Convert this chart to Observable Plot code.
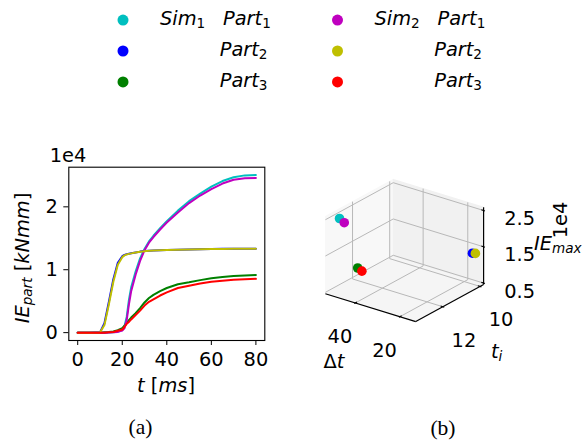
<!DOCTYPE html>
<html><head><meta charset="utf-8">
<script src="https://cdn.jsdelivr.net/npm/d3@7"></script>
<script src="https://cdn.jsdelivr.net/npm/@observablehq/plot@0.6"></script>
<style>
body{margin:0;background:#fff;}
#fig{position:relative;width:584px;height:441px;overflow:hidden;background:#fff;}
#fig > *{position:absolute;}
text{white-space:pre;}
</style></head><body><div id="fig"></div>
<script>
// ---------------- data ----------------
// (a) internal energy per part, in units of 1e4 kNmm
const tMs       = [0, 5, 10, 12, 14, 16, 18, 20, 21, 22, 23, 24, 26, 28, 30, 32, 34, 37, 40, 45, 50, 55, 60, 65, 70, 75, 80];
const sim1Part1 = [0, 0, 0, 0, 0.003, 0.008, 0.015, 0.04, 0.1, 0.25, 0.52, 0.72, 0.97, 1.18, 1.33, 1.45, 1.54, 1.66, 1.77, 1.94, 2.09, 2.21, 2.32, 2.41, 2.47, 2.50, 2.505];
const sim1Part2 = [0, 0, 0.005, 0.15, 0.49, 0.85, 1.11, 1.215, 1.235, 1.248, 1.255, 1.262, 1.275, 1.288, 1.297, 1.302, 1.306, 1.31, 1.313, 1.318, 1.322, 1.326, 1.33, 1.332, 1.333, 1.333, 1.333];
const sim1Part3 = [0, 0, 0, 0.005, 0.01, 0.02, 0.04, 0.07, 0.11, 0.16, 0.2, 0.24, 0.31, 0.39, 0.48, 0.55, 0.60, 0.66, 0.71, 0.77, 0.80, 0.835, 0.865, 0.885, 0.90, 0.91, 0.915];
const sim2Part1 = [0, 0, 0, 0, 0.002, 0.006, 0.012, 0.035, 0.07, 0.2, 0.45, 0.66, 0.92, 1.14, 1.31, 1.43, 1.52, 1.64, 1.75, 1.91, 2.06, 2.18, 2.28, 2.37, 2.43, 2.455, 2.46];
const sim2Part2 = [0, 0, 0.003, 0.12, 0.45, 0.81, 1.08, 1.20, 1.228, 1.243, 1.252, 1.26, 1.273, 1.286, 1.295, 1.30, 1.305, 1.309, 1.312, 1.317, 1.321, 1.325, 1.329, 1.331, 1.332, 1.332, 1.332];
const sim2Part3 = [0, 0, 0, 0, 0.005, 0.01, 0.03, 0.05, 0.09, 0.14, 0.17, 0.21, 0.28, 0.35, 0.43, 0.49, 0.53, 0.59, 0.64, 0.71, 0.745, 0.78, 0.81, 0.825, 0.84, 0.85, 0.855];

// (b) 3D scatter: duration, initial time, max energy (order: S1P1, S1P2, S1P3, S2P1, S2P2, S2P3)
const deltaT  = [49.9, 15.9, 49.0, 47.2, 15.0, 47.3];
const tInit   = [13.12, 10.05, 12.25, 13.19, 10.0, 12.23];

const seriesNames = ["S1P1", "S1P2", "S1P3", "S2P1", "S2P2", "S2P3"];
const seriesSim   = ["1", "1", "1", "2", "2", "2"];
const seriesPart  = ["1", "2", "3", "1", "2", "3"];
const seriesColor = ["#00bfbf", "#0000ff", "#008000", "#bf00bf", "#bfbf00", "#ff0000"];
const seriesVals  = [sim1Part1, sim1Part2, sim1Part3, sim2Part1, sim2Part2, sim2Part3];
const ieMax = seriesVals.map(v => d3.max(v));

// ticks
const tTicks = [0, 20, 40, 60, 80];
const ieTicks = [0, 1, 2];
const dtTicks = [20, 40];
const tiTicks = [10, 12];
const zTicks = [0.5, 1.5, 2.5];

// ---------------- helpers ----------------
const FS = 19.4;
const FAM = "DejaVu Sans";
function rich(parent, {x, y, parts, size = FS, anchor = "start", rotate = 0, family = FAM, drop = 3}) {
  const t = parent.append("text").attr("x", x).attr("y", y)
    .attr("font-family", family).attr("font-size", size)
    .attr("text-anchor", anchor).attr("fill", "#000");
  if (rotate) t.attr("transform", `rotate(${rotate} ${x} ${y})`);
  let shift = 0;
  for (const p of parts) {
    const target = p.sub ? drop : 0;
    const s = t.append("tspan").text(p.t)
      .attr("font-style", p.it ? "italic" : "normal")
      .attr("font-size", p.sub ? size * 0.7 : size);
    if (p.x != null) s.attr("x", p.x);
    if (target !== shift) s.attr("dy", target - shift);
    shift = target;
  }
  return t;
}
const fig = d3.select("#fig");
const baseStyle = {fontFamily: FAM, fontSize: FS + "px", background: "transparent", overflow: "visible", color: "black"};

// ---------------- legend ----------------
const leg = fig.append("svg").attr("width", 584).attr("height", 100).style("left", "0px").style("top", "0px");
const colX = [0, 214.5];
const rowY = [25.3, 56.2, 87.1];
seriesNames.forEach((n, i) => {
  const c = i < 3 ? 0 : 1, r = i % 3;
  const ox = colX[c];
  leg.append("circle").attr("cx", 123 + ox).attr("cy", rowY[r] - 5.2).attr("r", 5.5).attr("fill", seriesColor[i]);
  if (r === 0) {
    rich(leg, {x: 160 + ox, y: rowY[r], parts: [
      {t: "Sim", it: true}, {t: seriesSim[i], sub: true},
      {t: "Part", it: true, x: 223 + ox}, {t: seriesPart[i], sub: true}]});
  } else {
    rich(leg, {x: 219.7 + ox, y: rowY[r], parts: [{t: "Part", it: true}, {t: seriesPart[i], sub: true}]});
  }
});

// ---------------- (a) line chart ----------------
const left = Plot.plot({
  width: 290, height: 260,
  marginLeft: 68.3, marginRight: 25.7, marginTop: 26.7, marginBottom: 60,
  x: {domain: [-4, 84]},
  y: {domain: [-0.125, 2.63]},
  style: baseStyle,
  marks: [
    ...seriesVals.map((vals, i) => Plot.line(tMs.map((t, j) => ({t, v: vals[j]})),
      {x: "t", y: "v", stroke: seriesColor[i], strokeWidth: 2})),
    Plot.frame({stroke: "black", strokeWidth: 1.1}),
    Plot.axisX({ticks: tTicks, tickSize: 5, tickPadding: 7, fontSize: FS, label: null, tickFormat: d => String(d)}),
    Plot.axisY({ticks: ieTicks, tickSize: 5, tickPadding: 6, fontSize: FS, label: null, tickFormat: d => String(d)})
  ]
});
left.style.left = "0px"; left.style.top = "140px";
fig.node().appendChild(left);
const ls = d3.select(left);
ls.append("text").attr("x", 68).attr("y", 22).attr("font-family", FAM).attr("font-size", FS).attr("fill", "#000").text("1e4");
rich(ls, {x: 28.5, y: 118, anchor: "middle", rotate: -90, parts: [
  {t: "IE", it: true}, {t: "part", it: true, sub: true}, {t: " ["}, {t: "kNmm", it: true}, {t: "]"}]});
rich(ls, {x: 166, y: 252, anchor: "middle", parts: [
  {t: "t", it: true}, {t: " ["}, {t: "ms", it: true}, {t: "]"}]});

// ---------------- (b) 3D scatter ----------------
const lim = {dt: [12.9, 53.4], ti: [9.81, 13.46], ie: [0.46, 2.59]};
const elev = 24.2 * Math.PI / 180, azim = 143.1 * Math.PI / 180;
const boxAspect = [4, 4, 3];
function proj(dt, ti, ie) {
  const bx = boxAspect[0] * ((dt - lim.dt[0]) / (lim.dt[1] - lim.dt[0]) - 0.5);
  const by = boxAspect[1] * ((ti - lim.ti[0]) / (lim.ti[1] - lim.ti[0]) - 0.5);
  const bz = boxAspect[2] * ((ie - lim.ie[0]) / (lim.ie[1] - lim.ie[0]) - 0.5);
  const u = bx * Math.cos(azim) - by * Math.sin(azim);
  const w = bx * Math.sin(azim) + by * Math.cos(azim);
  return [u, bz * Math.cos(elev) + w * Math.sin(elev)];
}
const [d0, d1] = lim.dt, [t0, t1] = lim.ti, [z0, z1] = lim.ie;
const paneLeft  = [[d1, t0, z0], [d1, t1, z0], [d1, t1, z1], [d1, t0, z1], [d1, t0, z0]];
const paneBack  = [[d0, t0, z0], [d1, t0, z0], [d1, t0, z1], [d0, t0, z1], [d0, t0, z0]];
const paneFloor = [[d0, t0, z0], [d1, t0, z0], [d1, t1, z0], [d0, t1, z0], [d0, t0, z0]];
const grid = [
  ...tiTicks.map(t => [[d1, t, z0], [d1, t, z1]]),
  ...zTicks.map(z => [[d1, t0, z], [d1, t1, z]]),
  ...dtTicks.map(d => [[d, t0, z0], [d, t0, z1]]),
  ...zTicks.map(z => [[d0, t0, z], [d1, t0, z]]),
  ...dtTicks.map(d => [[d, t0, z0], [d, t1, z0]]),
  ...tiTicks.map(t => [[d0, t, z0], [d1, t, z0]])
];
const axesLines = [
  [[d0, t1, z0], [d1, t1, z0]],
  [[d0, t0, z0], [d0, t1, z0]],
  [[d0, t0, z0], [d0, t0, z1]]
];
const ddt = d1 - d0, dti = t1 - t0;
const tickSegs = [
  ...dtTicks.map(d => [[d, t1 + 0.015 * dti, z0], [d, t1 - 0.025 * dti, z0]]),
  ...tiTicks.map(t => [[d0 - 0.015 * ddt, t, z0], [d0 + 0.025 * ddt, t, z0]]),
  ...zTicks.map(z => [[d0 - 0.015 * ddt, t0, z], [d0 + 0.025 * ddt, t0, z]])
];
const P = p => proj(...p);
const pts = seriesNames.map((n, i) => ({n, dt: deltaT[i], ti: tInit[i], ie: ieMax[i], c: seriesColor[i]}));

const W3 = 292, H3 = 250, cx = 112, cy = 100, k = 28.25;
const linkOpts = (stroke, sw) => ({
  x1: s => P(s[0])[0], y1: s => P(s[0])[1], x2: s => P(s[1])[0], y2: s => P(s[1])[1], stroke, strokeWidth: sw});
const right = Plot.plot({
  width: W3, height: H3, margin: 0,
  x: {domain: [-cx / k, (W3 - cx) / k], axis: null},
  y: {domain: [-(H3 - cy) / k, cy / k], axis: null},
  style: baseStyle,
  marks: [
    Plot.line(paneLeft,  {x: p => P(p)[0], y: p => P(p)[1], fill: "#f8f8f8", stroke: "#f8f8f8", strokeWidth: 1}),
    Plot.line(paneBack,  {x: p => P(p)[0], y: p => P(p)[1], fill: "#f1f1f1", stroke: "#f1f1f1", strokeWidth: 1}),
    Plot.line(paneFloor, {x: p => P(p)[0], y: p => P(p)[1], fill: "#f5f5f5", stroke: "#f5f5f5", strokeWidth: 1}),
    Plot.link(grid, linkOpts("#b8b8b8", 1)),
    Plot.link(axesLines, linkOpts("black", 1.2)),
    Plot.link(tickSegs, linkOpts("black", 1.1)),
    Plot.text(dtTicks, {x: d => proj(d, t1, z0)[0], y: d => proj(d, t1, z0)[1], text: d => String(d), dx: -15.4, dy: 34.2, fontSize: FS}),
    Plot.text(tiTicks, {x: t => proj(d0, t, z0)[0], y: t => proj(d0, t, z0)[1], text: t => String(t), dx: 21, dy: 33.8, fontSize: FS}),
    Plot.text(zTicks, {x: z => proj(d0, t0, z)[0], y: z => proj(d0, t0, z)[1], text: z => z.toFixed(1), dx: 36, dy: 8.3, fontSize: FS}),
    Plot.dot(pts, {x: p => proj(p.dt, p.ti, p.ie)[0], y: p => proj(p.dt, p.ti, p.ie)[1], r: 4.8, fill: p => p.c, stroke: null})
  ]
});
right.style.left = "292px"; right.style.top = "150px";
fig.node().appendChild(right);
const rs = d3.select(right);
rich(rs, {x: 42, y: 218, anchor: "middle", parts: [{t: "\u0394"}, {t: "t", it: true}]});
rich(rs, {x: 199, y: 208, parts: [{t: "t", it: true}, {t: "i", it: true, sub: true}]});
rich(rs, {x: 242, y: 100, parts: [{t: "IE", it: true}, {t: "max", it: true, sub: true}]});
rs.append("text").attr("x", 275).attr("y", 70).attr("transform", "rotate(-90 275 70)")
  .attr("text-anchor", "middle").attr("font-family", FAM).attr("font-size", FS).attr("fill", "#000").text("1e4");

// ---------------- captions ----------------
const cap = fig.append("svg").attr("width", 584).attr("height", 41).style("left", "0px").style("top", "400px");
[["(a)", 140.5, 34], ["(b)", 443, 35]].forEach(([s, x, y]) =>
  cap.append("text").attr("x", x).attr("y", y).attr("text-anchor", "middle")
    .attr("font-family", "Liberation Serif").attr("font-size", 21.5).attr("fill", "#000").text(s));
</script></body></html>
